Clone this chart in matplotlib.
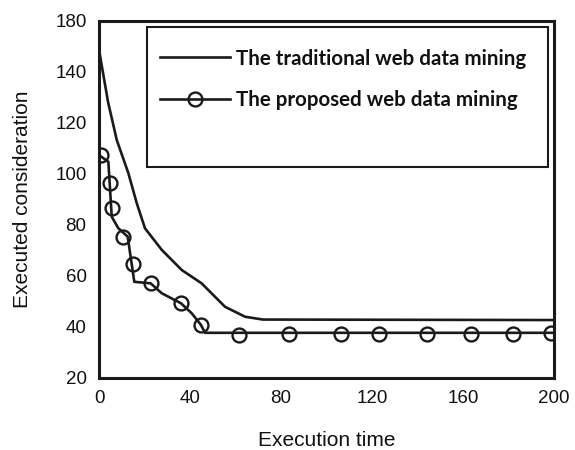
import numpy as np
import matplotlib
matplotlib.use('Agg')
import matplotlib.pyplot as plt
from matplotlib.patches import Rectangle
from matplotlib.lines import Line2D

# traditional web data mining curve
trad_x = [0.4, 4.0, 7.8, 12.9, 16.6, 20.2, 27.6, 36.4, 45.1, 55.4, 64.2, 72, 200]
trad_y = [146.5, 128.0, 113.2, 100.2, 88.4, 78.6, 70.1, 62.2, 57.0, 47.8, 43.9, 42.8, 42.6]

# proposed web data mining curve (line vertices)
prop_x = [0, 4.1, 5.6, 8.5, 12.6, 15.5, 22.7, 27.6, 36.0, 40.7, 44.8, 46.6, 200]
prop_y = [107.3, 104.7, 83.1, 78.6, 75.3, 57.6, 57.0, 53.1, 49.2, 45.3, 40.7, 37.6, 37.6]

# proposed curve markers
mark_x = [0.9, 4.8, 5.8, 10.7, 14.8, 22.7, 36.0, 44.8, 61.5, 83.7, 106.3, 123.1, 144.0, 163.4, 181.9, 198.5]
mark_y = [107.3, 96.5, 86.4, 75.3, 64.6, 57.0, 49.2, 40.7, 36.8, 37.2, 37.2, 37.2, 37.2, 37.2, 37.2, 37.4]

xticks = [0, 40, 80, 120, 160, 200]
yticks = [20, 40, 60, 80, 100, 120, 140, 160]
ytick_labels = ['20', '40', '60', '80', '100', '120', '140', '180']

labels = ['The traditional web data mining', 'The proposed web data mining']

col = '#1a1a1a'

fig = plt.figure(figsize=(5.75, 4.5), dpi=100)
ax = fig.add_axes([0.1722, 0.1607, 0.7913, 0.7933])

ax.plot(trad_x, trad_y, color=col, lw=1.9)
ax.plot(prop_x, prop_y, color=col, lw=1.9)
ax.plot(mark_x, mark_y, ls='none', marker='o', ms=10, mfc='none', mec=col, mew=1.7)

ax.set_xlim(0, 200)
ax.set_ylim(20, 160)
ax.set_xticks(xticks)
ax.set_yticks(yticks)
ax.set_yticklabels(ytick_labels)
ax.tick_params(length=0, labelsize=13.5, pad=9, colors='#111111')
for lab in ax.get_xticklabels() + ax.get_yticklabels():
    lab.set_family('Liberation Sans')
for s in ax.spines.values():
    s.set_linewidth(2.2)
    s.set_color(col)

ax.set_xlabel('Execution time', family='Liberation Sans', fontsize=15, labelpad=17, color='#111111')
ax.set_ylabel('Executed consideration', family='Liberation Sans', fontsize=15, labelpad=17, color='#111111')

# legend frame
ax.add_patch(Rectangle((0.106, 0.591), 0.881, 0.39, transform=ax.transAxes,
                       fill=False, ec=col, lw=1.5, zorder=5))
h1 = Line2D([], [], color=col, lw=1.9)
h2 = Line2D([], [], color=col, lw=1.9, marker='o', ms=10, mfc='none', mec=col, mew=1.7)
leg = ax.legend([h1, h2], labels, loc='upper left', bbox_to_anchor=(0.134, 0.922),
                frameon=False, borderpad=0, borderaxespad=0, handlelength=3.4,
                handletextpad=0.3, labelspacing=1.03, numpoints=1,
                prop={'family': 'Lato', 'weight': 'bold', 'size': 14.8})
for t in leg.get_texts():
    t.set_color('#111111')

fig.savefig('out.png', dpi=100)
